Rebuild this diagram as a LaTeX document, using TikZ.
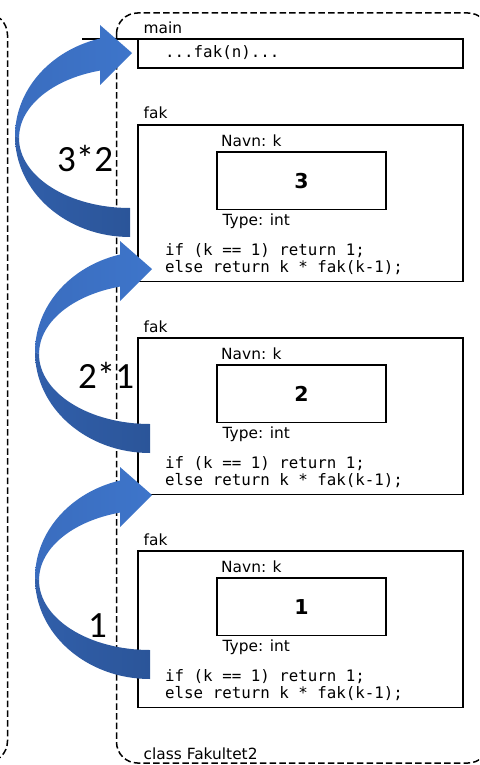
\documentclass[tikz,border=0pt]{standalone}
\usepackage{fontspec}
\setmainfont{DejaVu Sans}
\setmonofont{DejaVu Sans Mono}
\newfontfamily\resultfont{Carlito}

\definecolor{arrowlight}{RGB}{62,117,202}
\definecolor{arrowmid}{RGB}{58,109,191}
\definecolor{arrowdarkleft}{RGB}{49,95,170}
\definecolor{arrowdark}{RGB}{43,85,153}

\tikzset{
  dashline/.style={line width=1.5pt, dash pattern=on 6.5pt off 3.2pt},
  framebox/.style={draw, line width=1.6pt, anchor=north west, inner sep=0pt,
    outer sep=0pt, minimum width=325pt},
  valbox/.style={draw, line width=1.6pt, anchor=north west, inner sep=0pt,
    outer sep=0pt, minimum width=169pt, minimum height=57.5pt},
  lbl/.style={anchor=base west, inner sep=0pt, font=\fontsize{15.4}{18}\selectfont},
  code/.style={anchor=base west, inner sep=0pt, font=\ttfamily\fontsize{15.8}{18}\selectfont},
  valtext/.style={anchor=base, inner sep=0pt, font=\bfseries\fontsize{20.5}{24}\selectfont},
  result/.style={anchor=base west, inner sep=0pt, font=\resultfont\fontsize{37}{40}\selectfont},
  % curved block arrow returning a value to the calling frame
  returnarrow/.pic={
    \shade[left color=arrowmid, right color=arrowlight]
      (100,38.5) -- (100,25) -- (132,53) -- (100,85) -- (100,70.6)
      arc[start angle=254.32, end angle=180, x radius=111, y radius=70]
      -- (15,136)
      arc[start angle=180, end angle=254.88, x radius=115, y radius=101] -- cycle;
    \shade[left color=arrowdarkleft, right color=arrowdark]
      (19,138) arc[start angle=180, end angle=90, x radius=111, y radius=70]
      -- (130,237)
      arc[start angle=90, end angle=180, x radius=115, y radius=101] -- cycle;
  }
}

\begin{document}
\begin{tikzpicture}[x=1pt, y=-1pt]
\useasboundingbox (0,0) rectangle (479,765);
\clip (0,0) rectangle (479,765);

% neighbouring class (only its right edge is visible)
\draw[dashline, rounded corners=22pt] (-100,13) -- (7.5,13) -- (7.5,763) -- (-100,763);
% class Fakultet2
\draw[dashline, rounded corners=21pt] (116.5,13) rectangle (489,763);
\node[lbl] (classname) at (143.5,759.5) {class Fakultet2};

% main frame
\coordinate (rulestart) at (82,39);
\coordinate (ruleend) at (302,39);
\draw[line width=1.8pt] (rulestart) -- (ruleend);
\node[lbl] (mainlbl) at (143.5,34) {main};
\node[framebox, minimum height=29pt] (mainbox) at (138,39) {};
\node[code] (call) at (165,58) {...fak(n)...};

% the three fak frames
\foreach \ft/\val/\id in {125/3/a, 338/2/b, 551/1/c}{
  \node[lbl] (fak\id) at (143.5,{\ft-6}) {fak};
  \node[framebox, minimum height=156.5pt] (frame\id) at (138,\ft) {};
  \node[valbox] (val\id) at (217,{\ft+27}) {};
  \node[valtext] (num\id) at (301.5,{\ft+63}) {\val};
  \node[lbl] (navn\id) at (221,{\ft+21.5}) {Navn: k};
  \node[lbl] (type\id) at (222.5,{\ft+100}) {Type: int};
  \node[code] (if\id) at (165,{\ft+130.5}) {if (k == 1) return 1;};
  \node[code] (else\id) at (165,{\ft+147.5}) {else return k * fak(k-1);};
}

% returned values
\pic at (0,0) {returnarrow};
\pic at (20,216) {returnarrow};
\pic at (20,442) {returnarrow};

\node[result] (res32) at (57,171.7) {3*2};
\node[result] (res21) at (78,388) {2*1};
\node[result] (res1) at (88,637.7) {1};
\end{tikzpicture}
\end{document}
